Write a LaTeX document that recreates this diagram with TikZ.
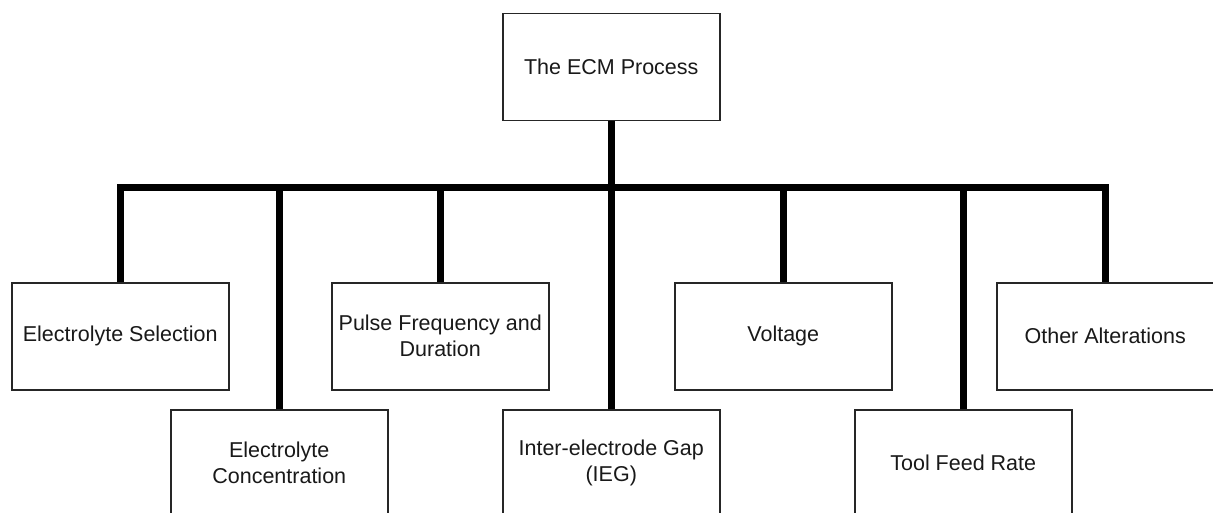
\documentclass[tikz,border=0pt]{standalone}
\usepackage{fontspec}
\setmainfont{Liberation Sans}
\begin{document}
\begin{tikzpicture}[x=1pt,y=-1pt,
  box/.style={draw=black!85, line width=1.5pt, fill=white, minimum width=217pt, minimum height=107pt,
    inner sep=0pt, align=center, text=black!90, font=\fontsize{21.5}{26}\selectfont, anchor=north west},
  conn/.style={line width=7pt, draw=black, line join=miter}]
\clip (0,0) rectangle (1213,513);
\fill[white] (0,0) rectangle (1213,513);
\node[box] (top) at (502,13) {The ECM Process};
\node[box] (es) at (11,282) {Electrolyte Selection};
\node[box] (ec) at (170,409) {Electrolyte\\Concentration};
\node[box] (pf) at (331,282) {Pulse Frequency and\\Duration};
\node[box] (ieg) at (502,409) {Inter-electrode Gap\\(IEG)};
\node[box] (vo) at (674,282) {Voltage};
\node[box] (tf) at (854,409) {Tool Feed Rate};
\node[box] (oa) at (996,282) {Other Alterations};
\coordinate (bar) at (0,188);
\draw[conn] (es.north) -- (es.north |- bar) -- (oa.north |- bar) -- (oa.north);
\draw[conn] (top.south) -- (top.south |- bar);
\draw[conn] (ec.north) -- (ec.north |- bar);
\draw[conn] (pf.north) -- (pf.north |- bar);
\draw[conn] (ieg.north) -- (ieg.north |- bar);
\draw[conn] (vo.north) -- (vo.north |- bar);
\draw[conn] (tf.north) -- (tf.north |- bar);
\end{tikzpicture}
\end{document}
